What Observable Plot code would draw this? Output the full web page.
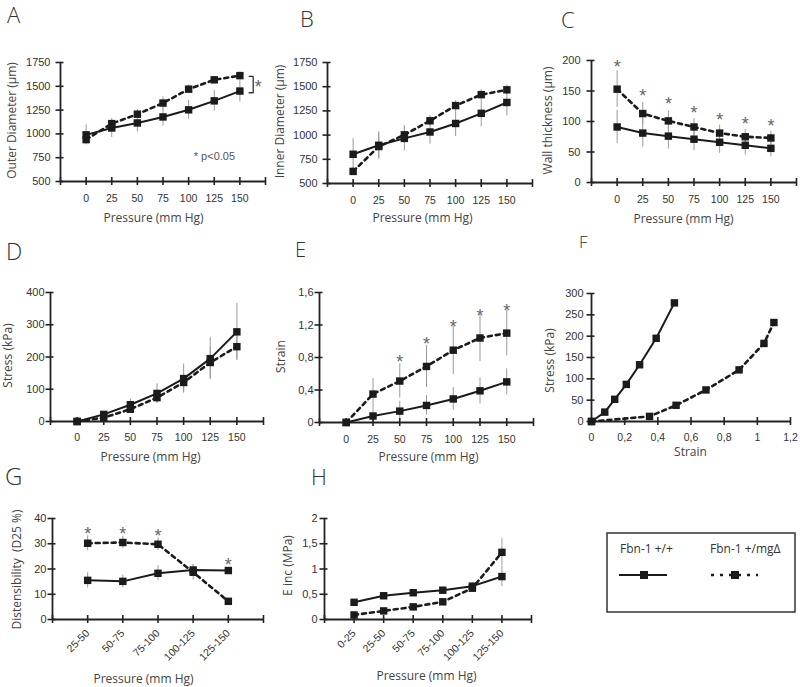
<!DOCTYPE html>
<html><head><meta charset="utf-8">
<script src="https://cdn.jsdelivr.net/npm/d3@7"></script>
<script src="https://cdn.jsdelivr.net/npm/@observablehq/plot@0.6"></script>
<style>
body{margin:0;background:#fff;}
#fig{position:relative;width:800px;height:687px;overflow:hidden;background:#fff;}
#fig svg{position:absolute;overflow:visible;}
</style></head><body><div id="fig"></div>
<script>
// ---------- data ----------
const pressure = [0, 25, 50, 75, 100, 125, 150];
const pressureTicks = [-25, 0, 25, 50, 75, 100, 125, 150, 175];

// A: outer diameter (µm)
const outerWT = [990, 1062, 1115, 1178, 1253, 1347, 1450];
const outerWTerr = [105, 100, 95, 95, 100, 110, 115];
const outerMG = [940, 1108, 1207, 1324, 1470, 1568, 1612];
const outerMGerr = [45, 40, 50, 65, 45, 30, 40];
const outerTicks = [500, 750, 1000, 1250, 1500, 1750];
const outerBracket = [[159, 1605], [163, 1605], [163, 1432], [159, 1432]];
const outerBracketStar = [[168, 1545]];
const outerNote = [[105, 763, "* p<0.05"]];

// B: inner diameter (µm)
const innerWT = [802, 895, 966, 1032, 1120, 1225, 1337];
const innerWTerr = [160, 140, 130, 125, 135, 140, 140];
const innerMG = [625, 882, 1003, 1148, 1305, 1418, 1468];
const innerMGerr = [40, 130, 90, 55, 50, 50, 50];
const innerTicks = [500, 750, 1000, 1250, 1500, 1750];

// C: wall thickness (µm)
const wallWT = [91, 81, 76, 71, 66, 61, 56];
const wallWTerr = [27, 23, 21, 19, 18, 16, 14];
const wallMG = [153, 113, 101, 91, 81, 75, 73];
const wallMGerr = [30, 18, 16, 14, 13, 12, 11];
const wallStars = [197, 150, 136, 121, 110, 104, 100];
const wallTicks = [0, 50, 100, 150, 200];

// D: stress (kPa)
const stressWT = [0, 22, 52, 87, 133, 195, 278];
const stressWTerr = [0, 5, 17, 30, 45, 65, 88];
const stressMG = [0, 12, 38, 74, 121, 183, 232];
const stressMGerr = [0, 5, 10, 18, 30, 48, 42];
const stressTicks = [0, 100, 200, 300, 400];

// E: strain
const strainWT = [0, 0.08, 0.14, 0.21, 0.29, 0.39, 0.50];
const strainWTerr = [0, 0.08, 0.12, 0.12, 0.14, 0.16, 0.16];
const strainMG = [0, 0.35, 0.51, 0.69, 0.89, 1.04, 1.10];
const strainMGerr = [0, 0.19, 0.21, 0.26, 0.30, 0.29, 0.28];
const strainStarP = [50, 75, 100, 125, 150];
const strainStars = [0.80, 1.02, 1.24, 1.37, 1.43];
const strainTicks = [0, 0.4, 0.8, 1.2, 1.6];

// F: stress vs strain (uses D and E values)
const fStrainTicks = [0, 0.2, 0.4, 0.6, 0.8, 1, 1.2];
const fStressTicks = [0, 50, 100, 150, 200, 250, 300];

// G: distensibility (D25 %)
const distCats = ["25-50", "50-75", "75-100", "100-125", "125-150"];
const distWT = [15.5, 15.1, 18.3, 19.6, 19.4];
const distWTerr = [3, 2.5, 3, 2, 1.2];
const distMG = [30.2, 30.5, 29.8, 18.7, 7.2];
const distMGerr = [3, 2.5, 2.5, 3, 0.8];
const distStarIdx = [0, 1, 2, 4];
const distStars = [35.6, 35.6, 35.0, 23.5];
const distTicks = [0, 10, 20, 30, 40];

// H: E inc (MPa)
const eincCats = ["0-25", "25-50", "50-75", "75-100", "100-125", "125-150"];
const eincWT = [0.34, 0.47, 0.53, 0.58, 0.66, 0.85];
const eincWTerr = [0.04, 0.04, 0.04, 0.04, 0.06, 0.2];
const eincMG = [0.09, 0.17, 0.25, 0.35, 0.62, 1.33];
const eincMGerr = [0.03, 0.03, 0.03, 0.04, 0.08, 0.27];
const eincTicks = [0, 0.5, 1, 1.5, 2];

// ---------- helpers ----------
const INK = "#1b1b1b";
const plain = d => String(d);
const comma = d => String(+(+d).toFixed(2)).replace(".", ",");
const rows = (xs, ys, es) => xs.map((x, i) => ({x, y: ys[i], e: es ? es[i] : 0}));
const fig = document.getElementById("fig");

function panel(cfg) {
  const [L, T, W, H] = cfg.box;
  const [x0, x1, y0, y1] = cfg.frame;
  const marks = [];
  for (const s of cfg.series) {
    const withErr = s.data.filter(d => d.e > 0);
    if (withErr.length) marks.push(Plot.ruleX(withErr, {x: "x", y1: d => d.y - d.e, y2: d => d.y + d.e, stroke: "#9a9a9a", strokeWidth: 1}));
  }
  marks.push(
    Plot.ruleY([cfg.yDomain[0]], {stroke: "#222", strokeWidth: 1.8}),
    Plot.ruleX([cfg.xDomain[0]], {stroke: "#222", strokeWidth: 1.8}),
    Plot.axisX(cfg.xTickMarks, {tickSize: 8, dy: -4, fill: "none", stroke: "#222", strokeWidth: 1.6, label: null}),
    Plot.axisX(cfg.xLabels, {tickSize: 0, tickPadding: cfg.xPad, tickFormat: cfg.xFormat, tickRotate: cfg.rotate || 0,
      fill: "#333", fontSize: 10.5, fontFamily: "Liberation Sans", label: null}),
    Plot.axisY(cfg.yTicks, {tickSize: 8, dx: 3.5, fill: "none", stroke: "#222", strokeWidth: 1.6, label: null}),
    Plot.axisY(cfg.yTicks, {tickSize: 0, tickPadding: cfg.yPad, tickFormat: cfg.yFormat,
      fill: "#333", fontSize: 11, fontFamily: "Liberation Sans", label: null})
  );
  for (const s of cfg.series) {
    marks.push(Plot.line(s.data, {x: "x", y: "y", stroke: INK, strokeWidth: s.dashed ? 2.6 : 2,
      strokeDasharray: s.dashed ? "4,4" : null}));
  }
  for (const s of cfg.series) {
    marks.push(Plot.dot(s.data, {x: "x", y: "y", symbol: "square", r: 4.2, fill: INK, stroke: null}));
  }
  if (cfg.stars) marks.push(Plot.text(cfg.stars, {x: d => d[0], y: d => d[1], text: () => "*", fill: "#666",
    fontSize: 18, fontFamily: "Liberation Sans", dy: 5}));
  if (cfg.extra) marks.push(...cfg.extra);
  marks.push(
    Plot.text([cfg.xTitle], {frameAnchor: "bottom", dx: cfg.xTitlePos[0] - (x0 + x1) / 2, dy: cfg.xTitlePos[1] - y1,
      fontSize: 12, fontFamily: "Open Sans", fill: "#444", textAnchor: "middle", lineAnchor: "middle"}),
    Plot.text([cfg.yTitle], {frameAnchor: "left", rotate: -90, dx: cfg.yTitlePos[0] - x0, dy: cfg.yTitlePos[1] - (y0 + y1) / 2,
      fontSize: 12, fontFamily: "Open Sans", fill: "#444", textAnchor: "middle", lineAnchor: "middle"})
  );
  const svg = Plot.plot({
    width: W, height: H,
    marginLeft: x0 - L, marginRight: L + W - x1, marginTop: y0 - T, marginBottom: T + H - y1,
    x: {domain: cfg.xDomain}, y: {domain: cfg.yDomain},
    style: {background: "transparent", fontFamily: "Liberation Sans", fontSize: "10px", color: "#333", overflow: "visible"},
    marks
  });
  svg.style.left = L + "px";
  svg.style.top = T + "px";
  fig.appendChild(svg);
}

const pLabel = "Pressure (mm Hg)";

// A
panel({
  box: [0, 30, 270, 200], frame: [60, 265, 62, 181],
  xDomain: [-25, 175], yDomain: [500, 1750],
  xTickMarks: pressureTicks, xLabels: pressure, xPad: 13, xFormat: plain,
  yTicks: outerTicks, yPad: 10, yFormat: plain,
  series: [{data: rows(pressure, outerWT, outerWTerr)}, {data: rows(pressure, outerMG, outerMGerr), dashed: true}],
  stars: outerBracketStar,
  extra: [
    Plot.line(outerBracket, {x: d => d[0], y: d => d[1], stroke: "#333", strokeWidth: 1.3}),
    Plot.text(outerNote, {x: d => d[0], y: d => d[1], text: d => d[2], textAnchor: "start", fill: "#555", fontSize: 11, fontFamily: "Liberation Sans"})
  ],
  xTitle: pLabel, xTitlePos: [153, 218], yTitle: "Outer Diameter (µm)", yTitlePos: [12, 120]
});

// B
panel({
  box: [265, 30, 270, 200], frame: [327, 532, 62, 183],
  xDomain: [-25, 175], yDomain: [500, 1750],
  xTickMarks: pressureTicks, xLabels: pressure, xPad: 13, xFormat: plain,
  yTicks: innerTicks, yPad: 10, yFormat: plain,
  series: [{data: rows(pressure, innerWT, innerWTerr)}, {data: rows(pressure, innerMG, innerMGerr), dashed: true}],
  xTitle: pLabel, xTitlePos: [422, 218], yTitle: "Inner Diameter (µm)", yTitlePos: [280, 121]
});

// C
panel({
  box: [530, 30, 270, 200], frame: [591, 796, 60, 182],
  xDomain: [-25, 175], yDomain: [0, 200],
  xTickMarks: pressureTicks, xLabels: pressure, xPad: 13, xFormat: plain,
  yTicks: wallTicks, yPad: 11, yFormat: plain,
  series: [{data: rows(pressure, wallWT, wallWTerr)}, {data: rows(pressure, wallMG, wallMGerr), dashed: true}],
  stars: pressure.map((p, i) => [p, wallStars[i]]),
  xTitle: pLabel, xTitlePos: [683, 219], yTitle: "Wall thickness (µm)", yTitlePos: [548, 120]
});

// D
panel({
  box: [0, 260, 270, 205], frame: [50, 263, 292, 421],
  xDomain: [-25, 175], yDomain: [0, 400],
  xTickMarks: pressureTicks, xLabels: pressure, xPad: 12, xFormat: plain,
  yTicks: stressTicks, yPad: 6, yFormat: plain,
  series: [{data: rows(pressure, stressWT, stressWTerr)}, {data: rows(pressure, stressMG, stressMGerr), dashed: true}],
  xTitle: pLabel, xTitlePos: [150, 457], yTitle: "Stress (kPa)", yTitlePos: [8, 355]
});

// E
panel({
  box: [265, 260, 270, 205], frame: [319, 533, 292, 422],
  xDomain: [-25, 175], yDomain: [0, 1.6],
  xTickMarks: pressureTicks, xLabels: pressure, xPad: 13, xFormat: plain,
  yTicks: strainTicks, yPad: 6, yFormat: comma,
  series: [{data: rows(pressure, strainWT, strainWTerr)}, {data: rows(pressure, strainMG, strainMGerr), dashed: true}],
  stars: strainStarP.map((p, i) => [p, strainStars[i]]),
  xTitle: pLabel, xTitlePos: [428, 457], yTitle: "Strain", yTitlePos: [281, 356]
});

// F
panel({
  box: [530, 260, 270, 205], frame: [591, 790, 293, 421],
  xDomain: [0, 1.2], yDomain: [0, 300],
  xTickMarks: fStrainTicks, xLabels: fStrainTicks, xPad: 12, xFormat: comma,
  yTicks: fStressTicks, yPad: 8, yFormat: plain,
  series: [{data: rows(strainWT, stressWT)}, {data: rows(strainMG, stressMG), dashed: true}],
  xTitle: "Strain", xTitlePos: [690, 452], yTitle: "Stress (kPa)", yTitlePos: [550, 360]
});

// G
const gIdx = distCats.map((c, i) => i);
panel({
  box: [0, 490, 270, 197], frame: [52, 263, 518, 619],
  xDomain: [-1, 5], yDomain: [0, 40],
  xTickMarks: [-1, ...gIdx, 5], xLabels: gIdx, xPad: 12, xFormat: i => distCats[i], rotate: -45,
  yTicks: distTicks, yPad: 6, yFormat: plain,
  series: [{data: rows(gIdx, distWT, distWTerr)}, {data: rows(gIdx, distMG, distMGerr), dashed: true}],
  stars: distStarIdx.map((i, k) => [i, distStars[k]]),
  xTitle: pLabel, xTitlePos: [143, 679], yTitle: "Distensibility  (D25 %)", yTitlePos: [17, 569]
});

// H
const hIdx = eincCats.map((c, i) => i);
panel({
  box: [265, 490, 270, 197], frame: [324, 531, 518, 619],
  xDomain: [-1, 6], yDomain: [0, 2],
  xTickMarks: [-1, ...hIdx, 6], xLabels: hIdx, xPad: 12, xFormat: i => eincCats[i], rotate: -45,
  yTicks: eincTicks, yPad: 7, yFormat: comma,
  series: [{data: rows(hIdx, eincWT, eincWTerr)}, {data: rows(hIdx, eincMG, eincMGerr), dashed: true}],
  xTitle: pLabel, xTitlePos: [426, 676], yTitle: "E inc (MPa)", yTitlePos: [288, 565]
});

// ---------- panel letters and legend ----------
const letters = [["A", 7, 23, 22], ["B", 300, 27, 22], ["C", 561, 28, 22], ["D", 6, 260, 23],
  ["E", 295, 257, 20], ["F", 579, 248, 17], ["G", 5, 485, 24], ["H", 311, 485, 22]];
const ns = "http://www.w3.org/2000/svg";
const over = document.createElementNS(ns, "svg");
over.setAttribute("width", 800); over.setAttribute("height", 687);
over.style.left = "0px"; over.style.top = "0px";
let html = letters.map(([t, x, y, s]) =>
  `<text x="${x}" y="${y}" font-family="Open Sans" font-weight="300" font-size="${s}" fill="#333">${t}</text>`).join("");
html += `<rect x="607" y="533" width="188" height="79" fill="none" stroke="#333" stroke-width="1.5"/>
<text x="620" y="553" font-family="Open Sans" font-size="12" fill="#333">Fbn-1 +/+</text>
<text x="710" y="553" font-family="Open Sans" font-size="12" fill="#333">Fbn-1 +/mgΔ</text>
<line x1="619" x2="667" y1="575" y2="575" stroke="${INK}" stroke-width="2"/>
<rect x="640" y="571" width="8" height="8" fill="${INK}"/>
<line x1="711" x2="758" y1="575" y2="575" stroke="${INK}" stroke-width="2.5" stroke-dasharray="3,6"/>
<rect x="731" y="571" width="8" height="8" fill="${INK}"/>`;
over.innerHTML = html;
fig.appendChild(over);
</script>
</body></html>
